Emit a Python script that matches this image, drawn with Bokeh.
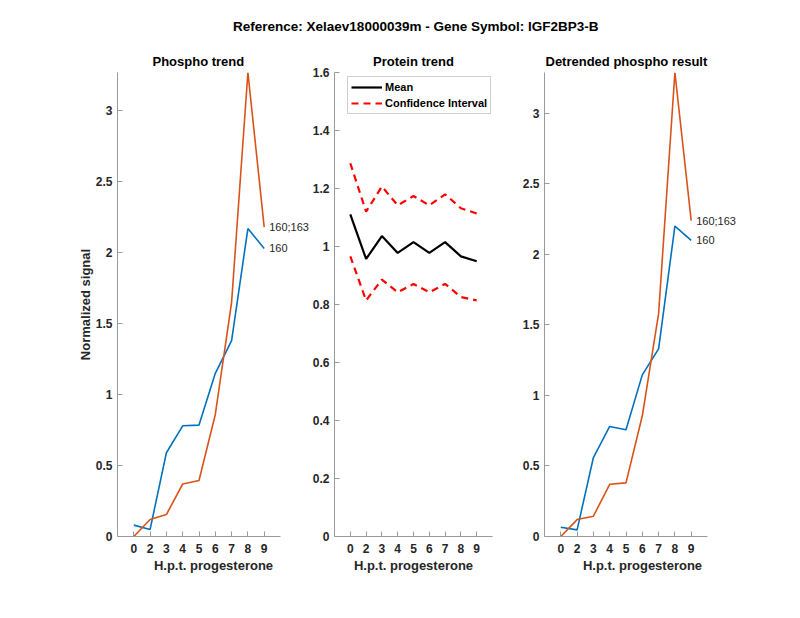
from bokeh.plotting import figure
from bokeh.models import Range1d, FixedTicker, NumeralTickFormatter, Label, Legend, LegendItem
from bokeh.layouts import column, row
from bokeh.embed import file_html
from bokeh.resources import INLINE

# ---- data ----
time_labels = ["0", "2", "3", "4", "5", "6", "7", "8", "9"]
phospho_160 = [0.08, 0.05, 0.59, 0.78, 0.785, 1.15, 1.38, 2.17, 2.03]
phospho_160_163 = [0.0, 0.12, 0.155, 0.37, 0.395, 0.86, 1.65, 3.27, 2.18]
protein_mean = [1.111, 0.957, 1.036, 0.978, 1.015, 0.978, 1.015, 0.966, 0.949]
protein_upper = [1.287, 1.12, 1.207, 1.142, 1.174, 1.142, 1.18, 1.132, 1.114]
protein_lower = [0.966, 0.814, 0.886, 0.842, 0.871, 0.842, 0.871, 0.826, 0.814]
detr_160 = [0.066, 0.047, 0.56, 0.78, 0.757, 1.146, 1.33, 2.2, 2.1]
detr_160_163 = [0.0, 0.12, 0.144, 0.37, 0.38, 0.856, 1.58, 3.29, 2.24]
site_labels = ["160", "160;163"]
phospho_ticks = [0, 0.5, 1, 1.5, 2, 2.5, 3]
protein_ticks = [0, 0.2, 0.4, 0.6, 0.8, 1.0, 1.2, 1.4, 1.6]

xpos = list(range(1, len(time_labels) + 1))
XMAX = len(time_labels) + 1
BLUE = "#0072BD"
ORANGE = "#D95319"
FONT = "Liberation Sans"
TXT = "#262626"
AXC = "#9a9a9a"

PX_PER_UNIT = 16.3
FRAME_H = 464
TOP = 24
BOTTOM = 45


def make_panel(title, left, right, frame_w, yticks, ymax, ylabel=None, title_offset=None):
    p = figure(width=left + frame_w + right, height=TOP + FRAME_H + BOTTOM,
               output_backend="svg", toolbar_location=None,
               x_range=Range1d(0, frame_w / PX_PER_UNIT), y_range=Range1d(0, ymax),
               min_border_left=left, min_border_right=right,
               min_border_top=TOP, min_border_bottom=BOTTOM)
    p.outline_line_color = None
    p.grid.visible = False
    p.title.text = title
    if title_offset is None:
        p.title.align = "center"
    else:
        p.title.align = "left"
        p.title.offset = title_offset
    p.title.text_font = FONT
    p.title.text_font_size = "13px"
    p.title.text_font_style = "bold"
    p.title.text_color = "black"
    p.title.standoff = 7
    for ax in (p.xaxis[0], p.yaxis[0]):
        ax.axis_line_color = AXC
        ax.major_tick_line_color = AXC
        ax.major_tick_in = 5
        ax.major_tick_out = 0
        ax.minor_tick_line_color = None
        ax.major_label_text_font = FONT
        ax.major_label_text_font_size = "12px"
        ax.major_label_text_font_style = "bold"
        ax.major_label_text_color = TXT
        ax.axis_label_text_font = FONT
        ax.axis_label_text_font_size = "13px"
        ax.axis_label_text_font_style = "bold"
        ax.axis_label_text_color = TXT
    xa = p.xaxis[0]
    xa.bounds = (0, XMAX)
    xa.ticker = FixedTicker(ticks=xpos)
    xa.major_label_overrides = {x: t for x, t in zip(xpos, time_labels)}
    xa.major_label_standoff = 7
    xa.axis_label = "H.p.t. progesterone"
    xa.axis_label_standoff = 2
    ya = p.yaxis[0]
    ya.ticker = FixedTicker(ticks=yticks)
    ya.formatter = NumeralTickFormatter(format="0.[0]")
    ya.major_label_standoff = 5
    if ylabel:
        ya.axis_label = ylabel
        ya.axis_label_standoff = 0
    return p


def site_panel(title, left, right, frame_w, s160, s160163, title_offset, ylabel=None):
    ymax = max(max(s160), max(s160163))
    p = make_panel(title, left, right, frame_w, phospho_ticks, ymax, ylabel, title_offset)
    p.line(xpos, s160, line_color=BLUE, line_width=1.6)
    p.line(xpos, s160163, line_color=ORANGE, line_width=1.6)
    for vals, lab in ((s160, site_labels[0]), (s160163, site_labels[1])):
        p.add_layout(Label(x=xpos[-1], y=vals[-1], text=lab, x_offset=5,
                           text_baseline="middle", text_align="left",
                           text_font=FONT, text_font_size="11px", text_color=TXT))
    return p


p1 = site_panel("Phospho trend", 117, 0, 192, phospho_160, phospho_160_163, 35,
                "Normalized signal")

p2 = make_panel("Protein trend", 20, 27, 163, protein_ticks, protein_ticks[-1])
r_mean = p2.line(xpos, protein_mean, line_color="black", line_width=2.2)
r_up = p2.line(xpos, protein_upper, line_color="red", line_width=2.2, line_dash="7 5")
p2.line(xpos, protein_lower, line_color="red", line_width=2.2, line_dash="7 5")
legend = Legend(items=[LegendItem(label="Mean", renderers=[r_mean]),
                       LegendItem(label="Confidence Interval", renderers=[r_up])],
                location=(13, FRAME_H - 6 - 36), orientation="vertical")
legend.label_text_font = FONT
legend.label_text_font_size = "11px"
legend.label_text_font_style = "bold"
legend.label_text_color = "black"
legend.glyph_width = 31
legend.glyph_height = 14
legend.label_height = 14
legend.label_standoff = 3
legend.spacing = 2
legend.padding = 3
legend.margin = 0
legend.border_line_color = "#a0a0a0"
legend.border_line_width = 1
legend.background_fill_color = "white"
legend.background_fill_alpha = 1
p2.add_layout(legend, "center")

p3 = site_panel("Detrended phospho result", 25, 0, 196, detr_160, detr_160_163, 1)

# super title
pt = figure(width=743, height=48, output_backend="svg", toolbar_location=None,
            x_range=Range1d(0, 743), y_range=Range1d(0, 48),
            min_border_left=0, min_border_right=0, min_border_top=0, min_border_bottom=0)
pt.outline_line_color = None
pt.axis.visible = False
pt.grid.visible = False
pt.add_layout(Label(x=419, y=22, text="Reference:  Xelaev18000039m - Gene Symbol:  IGF2BP3-B",
                    text_align="center", text_baseline="middle", text_font=FONT,
                    text_font_size="13.5px", text_font_style="bold", text_color="black"))

layout = column(pt, row(p1, p2, p3, spacing=0), spacing=0)
open("out.html", "w").write(file_html(layout, INLINE))
